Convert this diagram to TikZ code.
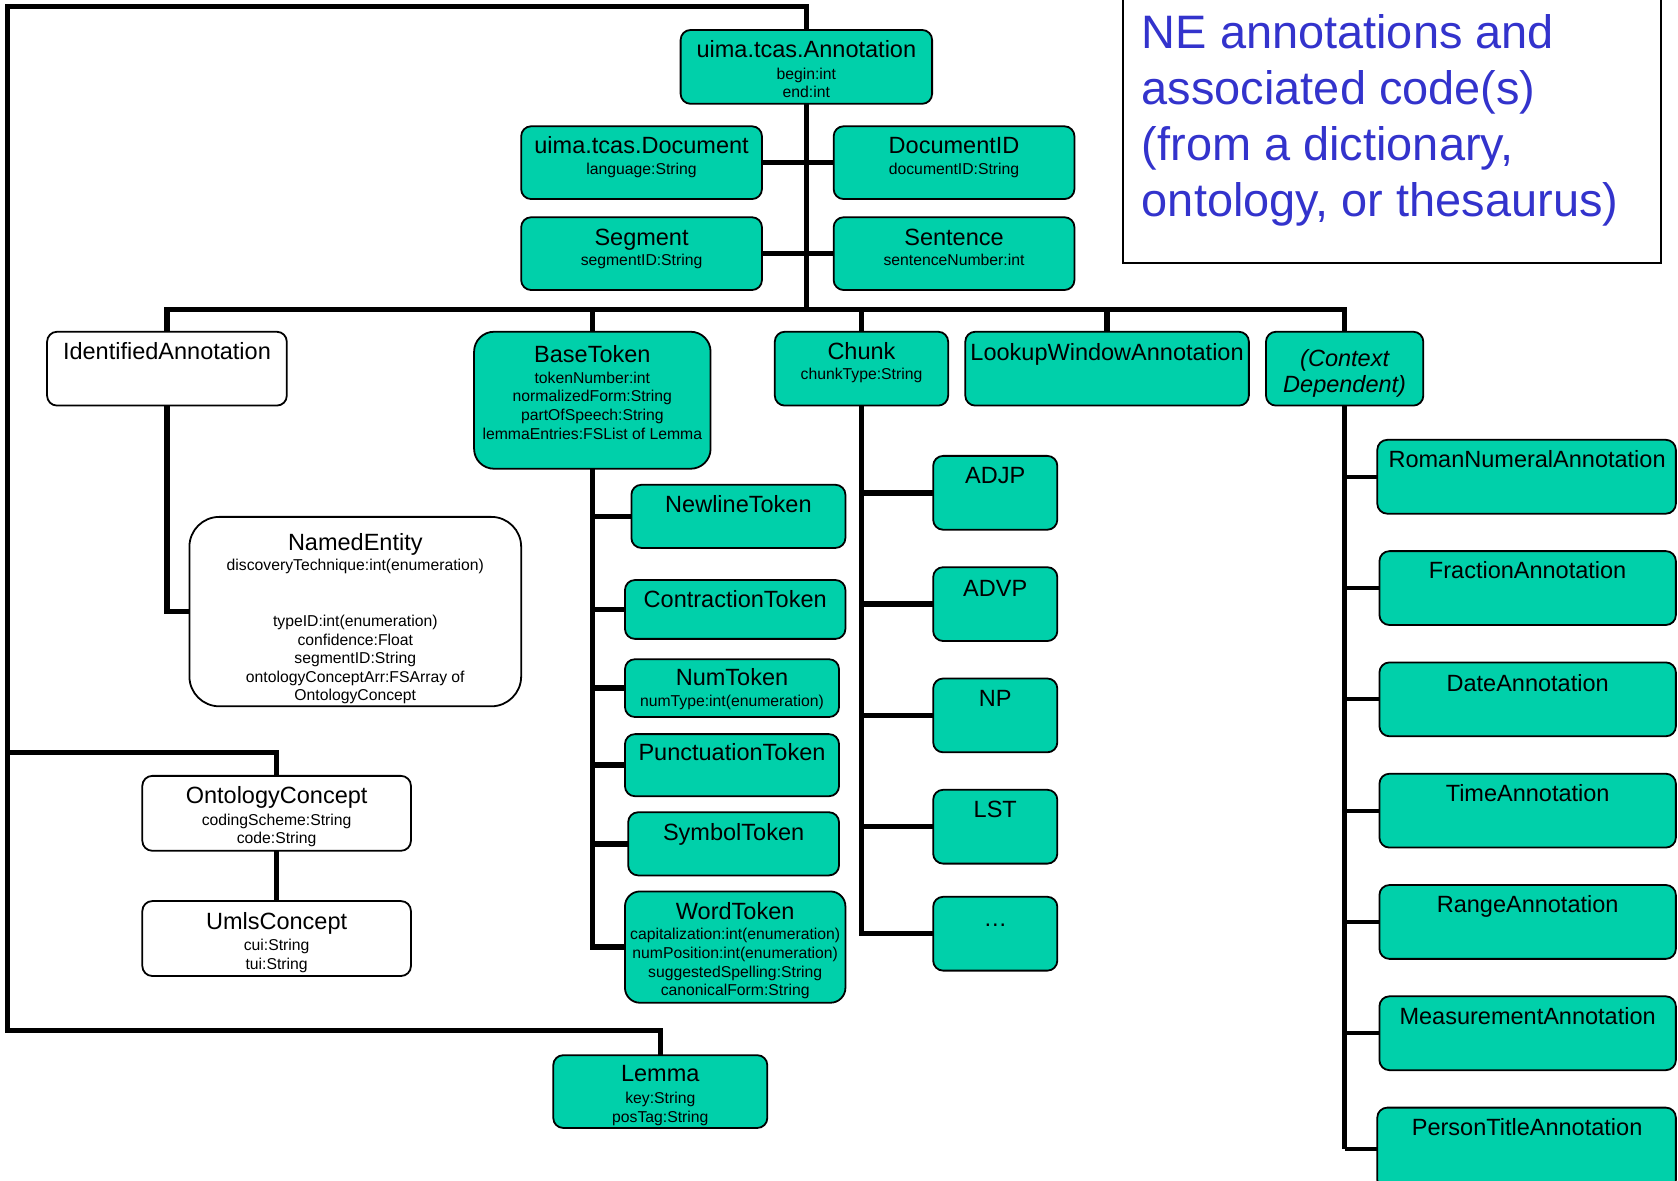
\documentclass[tikz,border=0pt]{standalone}
\usepackage{fontspec}
\setmainfont{Liberation Sans}
\usetikzlibrary{fit,backgrounds}

\definecolor{typefill}{RGB}{0,208,170}
\definecolor{noteblue}{RGB}{51,51,204}

\newcommand\titlefont{\fontsize{23.6}{28}\selectfont}
\newcommand\attrfont{\fontsize{15.8}{18.7}\selectfont}
\newcommand\notefont{\fontsize{47.1}{56}\selectfont}

% a type box spanning two corners: style, name, top-left, bottom-right
\newcommand\ent[4]{%
  \path (#3) coordinate (#2-a) (#4) coordinate (#2-b);
  \node[#1, fit=(#2-a)(#2-b)] (#2) {};}

% multi-line texts are placed by the baseline of their last line
\tikzset{
  every node/.style={inner sep=0pt, outer sep=0pt},
  box/.style={draw=black, line width=1.8pt, fill=typefill, rounded corners=10pt},
  wbox/.style={box, fill=white},
  ttl/.style={font=\titlefont, anchor=base},
  att/.style={font=\attrfont, align=center, anchor=base},
  link/.style={line width=5.5pt, line join=miter},
  sublink/.style={line width=4.2pt},
}

\begin{document}
\begin{tikzpicture}[x=1.0702bp, y=-1.0702bp]
\useasboundingbox (0,0) rectangle (1568,1103);

% ---------- boxes ----------
\ent{box}{ann}{636,28}{871,97}
\ent{box}{doc}{487,118}{712,186}
\ent{box}{docid}{779,118}{1004,186}
\ent{box}{seg}{487,203}{712,271}
\ent{box}{sent}{779,203}{1004,271}

\ent{wbox}{ia}{44,310}{268,379}
\ent{box,rounded corners=20pt}{bt}{443,310}{664,438}
\ent{box}{chunk}{724,310}{886,379}
\ent{box}{lwa}{902,310}{1167,379}
\ent{box}{ctx}{1183,310}{1330,379}

\ent{wbox,rounded corners=30pt}{ne}{177,483}{487,660}

\ent{box}{nl}{590,453}{790,512}
\ent{box}{ct}{584,542}{790,597}
\ent{box}{num}{584,616}{784,670}
\ent{box}{punct}{584,686}{784,744}
\ent{box}{sym}{587,759}{784,818}
\ent{box,rounded corners=15pt}{wt}{584,833}{790,937}

\ent{box}{adjp}{872,426}{988,495}
\ent{box}{advp}{872,530}{988,599}
\ent{box}{np}{872,634}{988,703}
\ent{box}{lst}{872,738}{988,807}
\ent{box}{dots}{872,838}{988,907}

\ent{box}{roman}{1287,411}{1566,480}
\ent{box}{frac}{1289,515}{1566,584}
\ent{box}{date}{1289,619}{1566,688}
\ent{box}{time}{1289,723}{1566,792}
\ent{box}{range}{1289,827}{1566,896}
\ent{box}{meas}{1289,931}{1566,1000}
\ent{box}{pers}{1287,1035}{1566,1112}

\ent{wbox}{oc}{133,725}{384,795}
\ent{wbox}{uc}{133,842}{384,912}
\ent{box}{lemma}{517,986}{717,1054}

\ent{draw=black, line width=1.8pt}{note}{1049,-20}{1552,246}

% ---------- texts ----------
\node[ttl] (ann-t) at (753.5,54) {uima.tcas.Annotation};
\node[att] (ann-x) at (753.5,91.5) {begin:int\\end:int};
\node[ttl] (doc-t) at (599.5,143) {uima.tcas.Document};
\node[att] (doc-x) at (599.5,163) {language:String};
\node[ttl] (docid-t) at (891.5,143) {DocumentID};
\node[att] (docid-x) at (891.5,163) {documentID:String};
\node[ttl] (seg-t) at (599.5,229) {Segment};
\node[att] (seg-x) at (599.5,248) {segmentID:String};
\node[ttl] (sent-t) at (891.5,229) {Sentence};
\node[att] (sent-x) at (891.5,248) {sentenceNumber:int};

\node[ttl] (ia-t) at (156,336) {IdentifiedAnnotation};
\node[ttl] (bt-t) at (553.5,339) {BaseToken};
\node[att] (bt-x) at (553.5,410.4) {tokenNumber:int\\normalizedForm:String\\partOfSpeech:String\\lemmaEntries:FSList of Lemma};
\node[ttl] (chunk-t) at (805,336) {Chunk};
\node[att] (chunk-x) at (805,355) {chunkType:String};
\node[ttl] (lwa-t) at (1034.5,337) {LookupWindowAnnotation};
\node[ttl, align=center, font=\titlefont\itshape, text width=140] (ctx-t) at (1256.5,342) {(Context\\[-1.5pt]Dependent)};

\node[ttl] (ne-t) at (332,514) {NamedEntity};
\node[att] (ne-x) at (332,533) {discoveryTechnique:int(enumeration)};
\node[att] (ne-y) at (332,655) {typeID:int(enumeration)\\confidence:Float\\segmentID:String\\ontologyConceptArr:FSArray of\\OntologyConcept};

\node[ttl] (nl-t) at (690,479) {NewlineToken};
\node[ttl] (ct-t) at (687,568) {ContractionToken};
\node[ttl] (num-t) at (684,641) {NumToken};
\node[att] (num-x) at (684,660) {numType:int(enumeration)};
\node[ttl] (punct-t) at (684,711) {PunctuationToken};
\node[ttl] (sym-t) at (685.5,785) {SymbolToken};
\node[ttl] (wt-t) at (687,859) {WordToken};
\node[att] (wt-x) at (687,930.4) {capitalization:int(enumeration)\\numPosition:int(enumeration)\\suggestedSpelling:String\\canonicalForm:String};

\node[ttl] (adjp-t) at (930,452) {ADJP};
\node[ttl] (advp-t) at (930,557) {ADVP};
\node[ttl] (np-t) at (930,660) {NP};
\node[ttl] (lst-t) at (930,764) {LST};
\node[ttl] (dots-t) at (930,866) {\dots};

\node[ttl] (roman-t) at (1427,437) {RomanNumeralAnnotation};
\node[ttl] (frac-t) at (1427.5,541) {FractionAnnotation};
\node[ttl] (date-t) at (1427.5,646) {DateAnnotation};
\node[ttl] (time-t) at (1427.5,749) {TimeAnnotation};
\node[ttl] (range-t) at (1427.5,853) {RangeAnnotation};
\node[ttl] (meas-t) at (1427.5,957) {MeasurementAnnotation};
\node[ttl] (pers-t) at (1427,1061) {PersonTitleAnnotation};

\node[ttl] (oc-t) at (258.5,751) {OntologyConcept};
\node[att] (oc-x) at (258.5,788.5) {codingScheme:String\\code:String};
\node[ttl] (uc-t) at (258.5,869) {UmlsConcept};
\node[att] (uc-x) at (258.5,905.5) {cui:String\\tui:String};
\node[ttl] (lemma-t) at (617,1011) {Lemma};
\node[att] (lemma-x) at (617,1048.5) {key:String\\posTag:String};

\node[font=\notefont, text=noteblue, align=left, anchor=base west] (note-t) at (1067,202)
  {NE annotations and\\associated code(s)\\(from a dictionary,\\ontology, or thesaurus)};

% ---------- connectors ----------
\begin{scope}[on background layer]
  \coordinate (bus) at (753.5,289);
  \coordinate (tl) at (7,6);
  \coordinate (bl) at (7,963);
  \coordinate (ml) at (7,703);

  \draw[link] (ann.south) -- (bus);
  \draw[link] (doc.east) -- (docid.west);
  \draw[link] (seg.east) -- (sent.west);
  \draw[link] (ia.north) |- (bus) -| (ctx.north);
  \draw[link] (bt.north) -- (bt.north |- bus);
  \draw[link] (chunk.north) -- (chunk.north |- bus);
  \draw[link] (lwa.north) -- (lwa.north |- bus);

  \draw[link] (ia.south) |- (ne.west);

  \draw[link] (bt.south) |- (wt.west);
  \foreach \n in {nl,ct,num,punct,sym}
    \draw[link] (bt.south |- \n.west) -- (\n.west);

  \draw[link] (chunk.south) |- (dots.west);
  \foreach \n in {adjp,advp,np,lst}
    \draw[link] (chunk.south |- \n.west) -- (\n.west);

  \draw[link] (ctx.south) -- (ctx.south |- pers.west);
  \foreach \n in {roman,frac,date,time,range,meas,pers}
    \draw[sublink] (ctx.south |- \n.west) -- (\n.west);

  \draw[link] (ann.north) |- (tl) -- (bl) -| (lemma.north);
  \draw[link] (ml) -| (oc.north);
  \draw[link] (oc.south) -- (uc.north);
\end{scope}
\end{tikzpicture}
\end{document}
